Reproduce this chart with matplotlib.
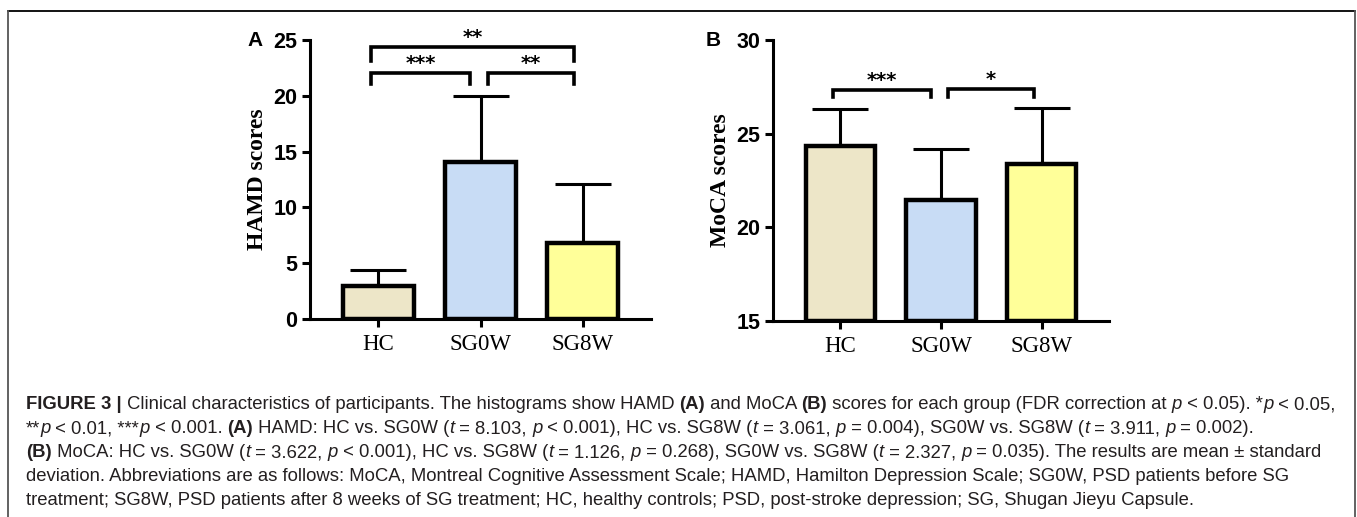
import numpy as np
import matplotlib
matplotlib.use("Agg")
import matplotlib.pyplot as plt
from matplotlib.lines import Line2D

# ---------------- data ----------------
groups = ["HC", "SG0W", "SG8W"]
colors = ["#EDE6C8", "#C8DCF5", "#FFFF99"]

hamd_mean = [3.0, 14.1, 6.8]
hamd_sd = [1.4, 5.9, 5.3]

moca_mean = [24.35, 21.45, 23.4]
moca_sd = [1.95, 2.75, 2.95]

# significance: (i, j, label, bracket level y, leg bottom y)
hamd_sig = [(0, 1, "***", 22.0, 21.1), (1, 2, "**", 22.0, 21.1), (0, 2, "**", 24.4, 23.1)]
moca_sig = [(0, 1, "***", 27.35, 26.95), (1, 2, "*", 27.4, 26.95)]

W, H = 1357, 517
fig = plt.figure(figsize=(W / 100, H / 100), dpi=100)


def fx(px):
    return px / W


def fy(py):
    return 1 - py / H


# frame
fig.add_artist(Line2D([fx(8), fx(1355)], [fy(11), fy(11)], color="black", lw=1.3))
fig.add_artist(Line2D([fx(8), fx(8)], [fy(11), 0], color="#555555", lw=1.3))
fig.add_artist(Line2D([fx(1355), fx(1355)], [fy(11), 0], color="#555555", lw=1.3))


def panel(left, right, top, bottom, means, sds, ylim, yticks, ylabel, sigs, letter, letter_x):
    ax = fig.add_axes([fx(left), fy(bottom), fx(right) - fx(left), fy(top) - fy(bottom)])
    x = np.arange(len(groups))
    ax.errorbar(x, means, yerr=[np.zeros(len(sds)), sds], fmt="none", ecolor="black",
                elinewidth=2.2, capsize=20, capthick=2.2, zorder=1)
    ax.bar(x, np.array(means) - ylim[0], bottom=ylim[0], width=0.69, color=colors,
           edgecolor="black", linewidth=3.2, zorder=2)
    ax.set_xlim(-0.67, 2.67)
    ax.set_ylim(*ylim)
    ax.set_yticks(yticks)
    ax.set_xticks(x)
    ax.set_xticklabels(groups, fontfamily="Liberation Serif", fontsize=16.5)
    for lab in ax.get_yticklabels():
        lab.set_fontfamily("Liberation Sans")
        lab.set_fontweight("bold")
        lab.set_fontsize(15.5)
    ax.tick_params(axis="both", width=2.2, length=6, direction="out", color="black")
    ax.tick_params(axis="x", pad=5)
    ax.tick_params(axis="y", pad=3)
    for s in ["top", "right"]:
        ax.spines[s].set_visible(False)
    for s in ["left", "bottom"]:
        ax.spines[s].set_linewidth(2.2)
    ax.spines["left"].set_bounds(ylim[0], ylim[1])
    ax.set_ylabel(ylabel, fontfamily="Liberation Serif", fontweight="bold", fontsize=17, labelpad=4)
    for (i, j, lab, ylev, yb) in sigs:
        xi = i - 0.07 if i == 0 else i + 0.07
        xj = j - 0.1 if j == 1 else j - 0.08
        ax.plot([xi, xi, xj, xj], [yb, ylev, ylev, yb], color="black", lw=2.6,
                clip_on=False, solid_joinstyle="miter", zorder=3)
        ax.text((xi + xj) / 2, ylev, lab, ha="center", va="bottom", fontsize=14,
                fontweight="bold", fontfamily="DejaVu Sans", clip_on=False)
    fig.text(fx(letter_x), fy(40), letter, ha="center", va="center",
             fontfamily="Liberation Sans", fontweight="bold", fontsize=15)
    return ax


panel(310, 651, 40, 319, hamd_mean, hamd_sd, (0, 25), [0, 5, 10, 15, 20, 25],
      "HAMD scores", hamd_sig, "A", 255)
panel(773, 1109, 40, 321, moca_mean, moca_sd, (15, 30), [15, 20, 25, 30],
      "MoCA scores", moca_sig, "B", 713)

# ---------------- caption ----------------
n, b, i_ = "n", "b", "i"
lines = [
    [("FIGURE 3 | ", b), ("Clinical characteristics of participants. The histograms show HAMD ", n),
     ("(A)", b), (" and MoCA ", n), ("(B)", b), (" scores for each group (FDR correction at ", n),
     ("p", i_), (" < 0.05). *", n), ("p", i_), (" < 0.05,", n)],
    [("**", n), ("p", i_), (" < 0.01, ***", n), ("p", i_), (" < 0.001. ", n), ("(A)", b),
     (" HAMD: HC vs. SG0W (", n), ("t", i_), (" = 8.103, ", n), ("p", i_),
     (" < 0.001), HC vs. SG8W (", n), ("t", i_), (" = 3.061, ", n), ("p", i_),
     (" = 0.004), SG0W vs. SG8W (", n), ("t", i_), (" = 3.911, ", n), ("p", i_), (" = 0.002).", n)],
    [("(B)", b), (" MoCA: HC vs. SG0W (", n), ("t", i_), (" = 3.622, ", n), ("p", i_),
     (" < 0.001), HC vs. SG8W (", n), ("t", i_), (" = 1.126, ", n), ("p", i_),
     (" = 0.268), SG0W vs. SG8W (", n), ("t", i_), (" = 2.327, ", n), ("p", i_),
     (" = 0.035). The results are mean \u00b1 standard", n)],
    [("deviation. Abbreviations are as follows: MoCA, Montreal Cognitive Assessment Scale; HAMD, "
      "Hamilton Depression Scale; SG0W, PSD patients before SG", n)],
    [("treatment; SG8W, PSD patients after 8 weeks of SG treatment; HC, healthy controls; PSD, "
      "post-stroke depression; SG, Shugan Jieyu Capsule.", n)],
]
baselines = [409, 433, 457, 481, 505]
x0 = 26
target_end = 1341

renderer = fig.canvas.get_renderer()


def style_kw(st, size):
    kw = dict(fontfamily="Liberation Sans", fontsize=size, color="#231F20")
    if st == "b":
        kw["fontweight"] = "bold"
    if st == "i":
        kw["fontstyle"] = "italic"
    return kw


def seg_width(s, st, size):
    t1 = fig.text(0, 0, "|" + s + "|", **style_kw(st, size))
    t2 = fig.text(0, 0, "||", **style_kw(st, size))
    w = t1.get_window_extent(renderer).width - t2.get_window_extent(renderer).width
    t1.remove()
    t2.remove()
    return w


base_size = 12.0
tot = sum(seg_width(s, st, base_size) for s, st in lines[0])
size = base_size * (target_end - x0) / tot

for segs, yb in zip(lines, baselines):
    xc = x0
    for s, st in segs:
        fig.text(fx(xc), fy(yb), s, ha="left", va="baseline", **style_kw(st, size))
        xc += seg_width(s, st, size)

fig.savefig("out.png", dpi=100)
